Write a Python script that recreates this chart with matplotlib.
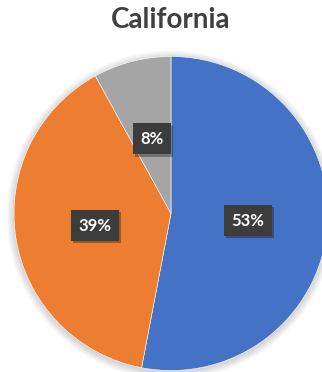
import matplotlib
matplotlib.use("Agg")
import matplotlib.pyplot as plt
from matplotlib.patches import Circle
import matplotlib.patheffects as pe

# data
labels = ["Blue", "Orange", "Gray"]
shares = [53, 39, 8]
colors = ["#4472C4", "#ED7D31", "#A5A5A5"]
title = "California"

W, H = 322, 372
fig = plt.figure(figsize=(W / 100, H / 100), dpi=100)
fig.patch.set_facecolor("white")

# pie placement in pixels (center, radius), pie runs a bit past right edge
cx, cy, r = 171, H - 213.5, 157
ax = fig.add_axes([(cx - r) / W, (cy - r) / H, 2 * r / W, 2 * r / H])

# soft shadow behind the pie
for i in range(8):
    ax.add_patch(Circle((0.0, -0.01), 1 + 0.006 * (i + 1), color="black",
                        alpha=0.018, lw=0, zorder=0, clip_on=False))

wedges, texts, autotexts = ax.pie(
    shares, colors=colors, startangle=90, counterclock=False, radius=1,
    autopct=lambda p: f"{p:.0f}%", pctdistance=0.49,
    wedgeprops=dict(edgecolor="white", linewidth=0.4),
    textprops=dict(color="white", fontsize=12, fontweight="bold", family=["Lato", "DejaVu Sans"]),
)
ax.set_xlim(-1, 1)
ax.set_ylim(-1, 1)
ax.set_aspect("equal")
ax.axis("off")
for w in wedges:
    w.set_clip_on(False)
for t in autotexts:
    t.set_bbox(dict(boxstyle="square,pad=0.45", facecolor="#3c3c3c", edgecolor="none"))
    t.get_bbox_patch().set_path_effects([pe.SimplePatchShadow(offset=(1.5, -1.5), alpha=0.35), pe.Normal()])

fig.text(171 / W, 1 - 28 / H, title, ha="center", va="baseline", fontsize=20,
         fontweight="bold", color="#404040", family=["Lato", "DejaVu Sans"])

fig.savefig("out.png", dpi=100)
